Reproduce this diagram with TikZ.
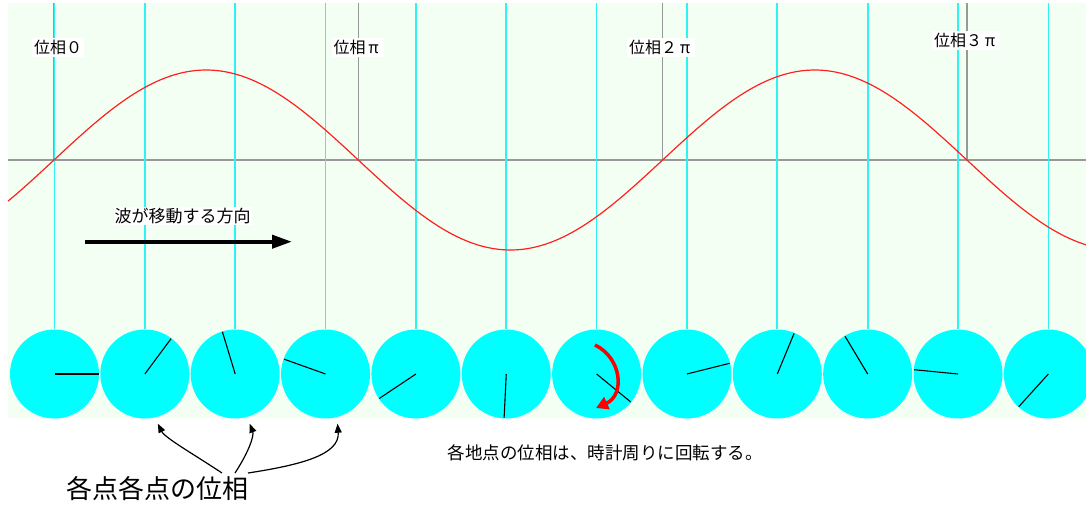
\documentclass[tikz,border=0pt]{standalone}
\usepackage{fontspec}
\newfontfamily\jp{Noto Sans CJK JP}
\usetikzlibrary{arrows.meta}
\definecolor{bg}{HTML}{F4FFF4}
\definecolor{disccol}{HTML}{00FFFF}
\definecolor{guidecol}{HTML}{30F2F2}
\definecolor{axiscol}{HTML}{989898}
\definecolor{wavecol}{HTML}{FF2020}
\newcommand{\fwpi}{\makebox[1em]{π}}
\begin{document}
\begin{tikzpicture}[x=1pt,y=-1pt,
  disc/.style={circle,fill=disccol,minimum size=89pt,inner sep=0pt},
  guide/.style={draw=guidecol,line width=1.7pt},
  axisline/.style={draw=axiscol,line width=1.6pt},
  hand/.style={draw=black,line width=1.1pt},
  wave/.style={draw=wavecol,line width=1.2pt},
  plabel/.style={fill=white,inner sep=2pt,font=\jp\fontsize{16}{16}\selectfont},
  dirlabel/.style={fill=white,inner sep=1pt,font=\jp\fontsize{17}{17}\selectfont},
  note/.style={inner sep=0pt,font=\jp\fontsize{17.5}{17.5}\selectfont},
  biglabel/.style={inner sep=1pt,font=\jp\fontsize{26}{26}\selectfont},
  pointer/.style={draw=black,line width=1.2pt,-{Triangle[length=9pt,width=7pt]}},
  dirarrow/.style={draw=black,line width=4pt,-{Triangle[length=20pt,width=13pt]}},
  rotarrow/.style={draw=red,line width=3.5pt,-{Triangle[length=12pt,width=13pt]}}]
\useasboundingbox (0,0) rectangle (1086,506);
\fill[bg] (8,3) rectangle (1086,418);
% axis and phase markers
\draw[axisline] (8,160) -- (1086,160);
\foreach \k in {0,...,3} \draw[axisline] ({54+304.3*\k},3) -- ({54+304.3*\k},160);
% discs, guides and hands
\foreach \i in {0,...,11} {
  \pgfmathsetmacro\cx{54.5+90.35*\i}
  \node[disc] (c\i) at (\cx,374) {};
  \draw[guide] (\cx,3) -- (c\i.north);
  \draw[hand] (c\i.center) -- ++({-53.44*\i}:44);
}
% wave
\draw[wave] plot[domain=8:1086,samples=300,smooth] (\x,{160-90*sin(0.59152*(\x-54))});
% phase labels
\node[plabel] (p0) at (58,47.5) {位相０};
\node[plabel] (p1) at (357.5,47.5) {位相\fwpi};
\node[plabel] (p2) at (661,47.5) {位相２\fwpi};
\node[plabel] (p3) at (966,40.5) {位相３\fwpi};
% direction
\node[dirlabel] (dir) at (182.5,216) {波が移動する方向};
\coordinate (da) at (85,241.7);
\coordinate (db) at (292,241.7);
\draw[dirarrow] (da) -- (db);
% rotation arrow
\coordinate (ra) at (595,345);
\coordinate (rb) at (596,408);
\draw[rotarrow] (ra) .. controls (622,358) and (625,395) .. (rb);
% notes
\node[note] (rot) at (605,453) {各地点の位相は、時計周りに回転する。};
\node[biglabel] (each) at (157,489) {各点各点の位相};
\coordinate (s1) at (222,473);
\coordinate (s2) at (235,473);
\coordinate (s3) at (248,473);
\coordinate (t1) at ([shift={(13,5)}]c1.south);
\coordinate (t2) at ([shift={(14.5,5)}]c2.south);
\coordinate (t3) at ([shift={(12,5)}]c3.south);
\draw[pointer] (s1) .. controls (195,455) and (165,438) .. (t1);
\draw[pointer] (s2) .. controls (250,450) and (254,435) .. (t2);
\draw[pointer] (s3) .. controls (300,465) and (340,455) .. (t3);
\end{tikzpicture}
\end{document}
